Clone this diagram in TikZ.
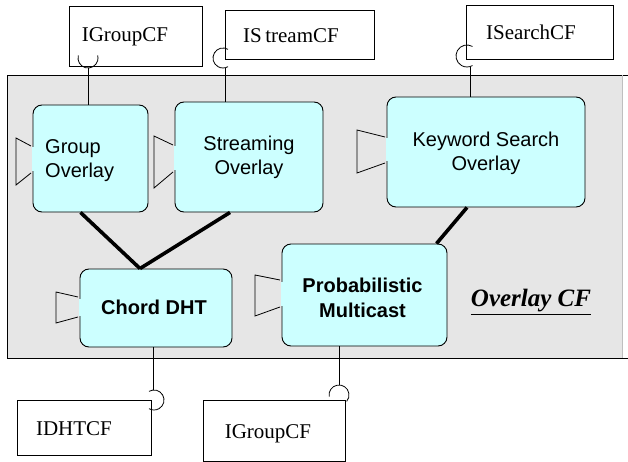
\documentclass[tikz,border=0pt]{standalone}
\usepackage{fontspec}
\setmainfont{Liberation Serif}
\newfontfamily\arialf{Liberation Sans}
\definecolor{boxcyan}{RGB}{204,255,255}
\definecolor{panelgray}{RGB}{230,230,230}
\newcommand\portshape[6]{%
  \draw[portline] (#2-2,#4) -- (#1,#3) -- (#1,#6) -- (#2-2,#5);
  \draw[boxcyan, line width=1.6pt] (#2,#4+1.5) -- (#2,#5-1.5);}
\begin{document}
\begin{tikzpicture}[x=1pt,y=1pt,yscale=-1,
  comp/.style={draw=black, line width=0.9pt, fill=boxcyan, rounded corners=9pt, inner sep=0},
  iface/.style={draw=black, line width=0.9pt, fill=white, inner sep=0},
  boxtxt/.style={font=\arialf\fontsize{20}{24}\selectfont, align=center, inner sep=0},
  boldtxt/.style={font=\arialf\bfseries\fontsize{20}{25}\selectfont, align=center, inner sep=0},
  ifacetxt/.style={font=\fontsize{21}{24}\selectfont, inner sep=0},
  bind/.style={line width=3.6pt},
  wire/.style={line width=0.8pt},
  sock/.style={line width=0.8pt},
  portline/.style={line width=0.8pt}]
\useasboundingbox (0,0) rectangle (628,462);
% panel
\fill[panelgray] (7,75) rectangle (623,358);
\draw[line width=0.9pt] (628,75) -- (7,75) -- (7,358) -- (628,358);
\draw[gray!50, line width=0.8pt] (622,75) -- (622,358);
% interface boxes
\node[iface, minimum width=133pt, minimum height=60pt] (ig1) at (135.5,36) {};
\node[ifacetxt] (ig1t) at (125,37) {IGroupCF};
\node[iface, minimum width=149pt, minimum height=49pt] (ist) at (299.5,34.5) {};
\node[ifacetxt] (istt) at (291,36) {IS\,treamCF};
\node[iface, minimum width=147pt, minimum height=54pt] (isr) at (539.5,32) {};
\node[ifacetxt] (isrt) at (531,32) {ISearchCF};
\node[iface, minimum width=134pt, minimum height=55pt] (idht) at (84,427.5) {};
\node[ifacetxt] (idhtt) at (74,429) {IDHTCF};
\node[iface, minimum width=142pt, minimum height=61pt] (ig2) at (274,430.5) {};
\node[ifacetxt] (ig2t) at (268,434) {IGroupCF};
% components
\node[comp, minimum width=115pt, minimum height=107pt] (go) at (90.5,158.5) {};
\node[boxtxt, align=left, anchor=west] (got) at (45,161) {Group\\Overlay};
\node[comp, minimum width=148pt, minimum height=110pt] (so) at (249,157) {};
\node[boxtxt] (sot) at (249,157) {Streaming\\Overlay};
\node[comp, minimum width=198pt, minimum height=110pt] (ko) at (486,152) {};
\node[boxtxt] (kot) at (486,153) {Keyword Search\\Overlay};
\node[comp, minimum width=152pt, minimum height=78pt] (cd) at (156,308) {};
\node[boldtxt] (cdt) at (154,307) {Chord DHT};
\node[comp, minimum width=165pt, minimum height=102pt] (pm) at (364.5,295) {};
\node[boldtxt] (pmt) at (362.5,298) {Probabilistic\\Multicast};
\node[font=\fontsize{25}{27}\selectfont\bfseries\itshape, inner sep=0] (ocf) at (531,302) {\underline{Overlay CF}};
% ports
\portshape{16}{33}{138}{146}{173}{185}
\portshape{154}{175}{136}{145}{172}{188}
\portshape{357}{387}{130}{137}{163}{173}
\portshape{56}{80}{292}{297}{317}{323}
\portshape{255}{282}{275}{280}{307}{316}
% bindings
\draw[bind] ([xshift=-10pt]go.south) -- ([xshift=-16pt]cd.north);
\draw[bind] ([xshift=-19pt]so.south) -- ([xshift=-16pt]cd.north);
\draw[bind] ([xshift=-19pt]ko.south) -- ([xshift=72pt]pm.north);
% sockets and wires
\coordinate (s1) at (88,68);
\draw[sock] (88,58) ++(195:10) arc[start angle=195, end angle=-15, radius=10];
\draw[wire] (s1) -- (s1 |- go.north);
\coordinate (s2) at (225,68);
\draw[sock] (223,58) ++(300:10) arc[start angle=300, end angle=60, radius=10];
\draw[wire] (s2) -- (s2 |- so.north);
\coordinate (s3) at (470,67);
\draw[sock] (467,56) ++(300:11) arc[start angle=300, end angle=60, radius=11];
\draw[wire] (s3) -- (s3 |- ko.north);
\coordinate (s4) at (153,390);
\draw[sock] (154,400) ++(240:10) arc[start angle=240, end angle=480, radius=10];
\draw[wire] (s4 |- cd.south) -- (s4);
\coordinate (s5) at (339,385);
\draw[sock] (339,395) ++(170:10) arc[start angle=170, end angle=400, radius=10];
\draw[wire] (s5 |- pm.south) -- (s5);
\end{tikzpicture}
\end{document}
